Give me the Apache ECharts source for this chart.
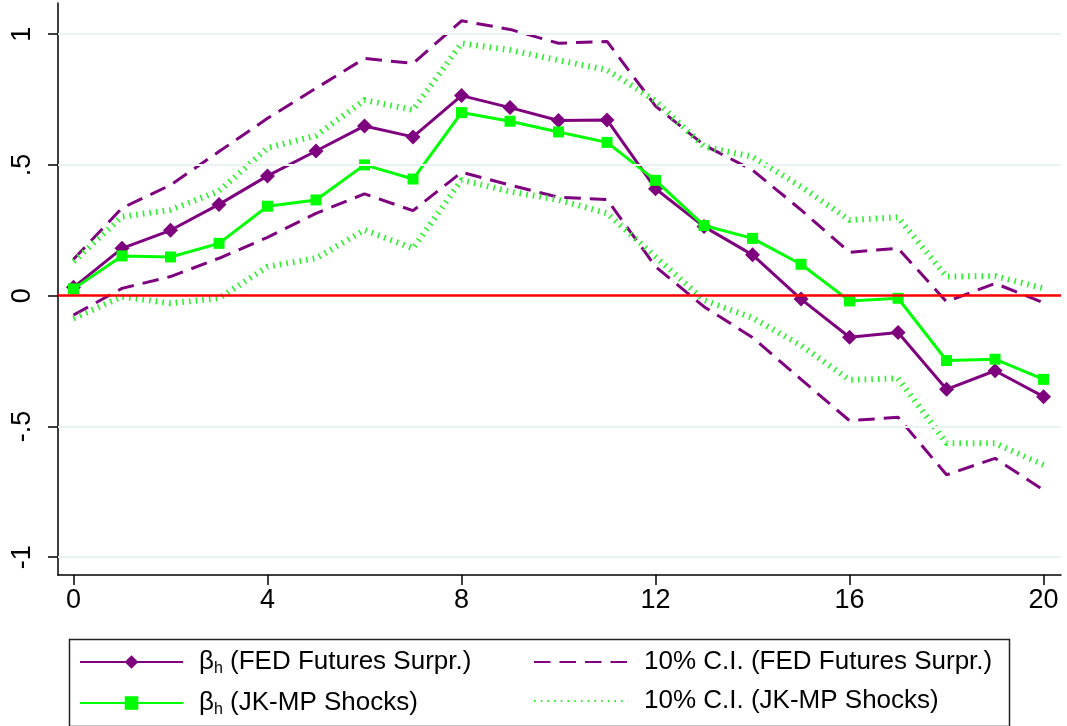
<!DOCTYPE html>
<html>
<head>
<meta charset="utf-8">
<script src="https://cdn.jsdelivr.net/npm/echarts@6/dist/echarts.min.js"></script>
<style>
html,body{margin:0;padding:0;background:#fff;}
#chart{width:1067px;height:726px;}
</style>
</head>
<body>
<div id="chart"></div>
<script>
// horizons
var horizons = [0,1,2,3,4,5,6,7,8,9,10,11,12,13,14,15,16,17,18,19,20];
// beta_h, FED futures surprises
var fedBeta = [0.032,0.181,0.25,0.349,0.458,0.553,0.649,0.607,0.765,0.719,0.670,0.672,0.409,0.264,0.156,-0.013,-0.159,-0.141,-0.358,-0.287,-0.386];
var fedUpper = [0.139,0.335,0.423,0.551,0.678,0.793,0.907,0.888,1.051,1.018,0.965,0.972,0.725,0.576,0.48,0.328,0.166,0.181,-0.023,0.047,-0.027];
var fedLower = [-0.074,0.028,0.073,0.143,0.223,0.315,0.389,0.325,0.472,0.423,0.376,0.368,0.111,-0.042,-0.16,-0.32,-0.478,-0.465,-0.685,-0.622,-0.743];
// beta_h, JK-MP shocks
var jkBeta = [0.026,0.152,0.148,0.2,0.342,0.366,0.5,0.446,0.70,0.667,0.626,0.586,0.441,0.268,0.219,0.12,-0.02,-0.01,-0.248,-0.243,-0.32];
var jkUpper = [0.13,0.302,0.328,0.40,0.565,0.612,0.748,0.71,0.965,0.939,0.9,0.863,0.745,0.57,0.531,0.417,0.289,0.3,0.073,0.075,0.028];
var jkLower = [-0.087,-0.004,-0.029,-0.01,0.111,0.143,0.251,0.181,0.442,0.398,0.366,0.315,0.149,-0.017,-0.085,-0.19,-0.322,-0.316,-0.564,-0.564,-0.647];
// axis ticks
var xTicks = [0,4,8,12,16,20];
var yTicks = [-1,-0.5,0,0.5,1];
var yTickLabels = {'-1':'-1','-0.5':'-.5','0':'0','0.5':'.5','1':'1'};
var gridLineValues = [-1,-0.5,0.5,1];

var nameFedBeta = 'fedBeta', nameJkBeta = 'jkBeta', nameFedCI = 'fedCI', nameJkCI = 'jkCI';
var legendText = {
  fedBeta: '{b|β}{s|h}{t| (FED Futures Surpr.)}',
  jkBeta: '{b|β}{s|h}{t| (JK-MP Shocks)}',
  fedCI: '{t|10% C.I. (FED Futures Surpr.)}',
  jkCI: '{t|10% C.I. (JK-MP Shocks)}'
};
function pairs(arr){ return horizons.map(function(h,i){ return [h, arr[i]]; }); }

var PURPLE = '#7f007f', GREEN = '#00ff00', DOT = '#2ef02e';
var FONT = '"Liberation Sans", Arial, sans-serif';
var richStyle = {
  b: {fontSize: 26, fontFamily: FONT, color: '#000', lineHeight: 30},
  s: {fontSize: 16, fontFamily: FONT, color: '#000', verticalAlign: 'bottom', lineHeight: 24},
  t: {fontSize: 26, fontFamily: FONT, color: '#000', lineHeight: 30}
};

var chart = echarts.init(document.getElementById('chart'), null, {renderer: 'canvas'});
var option = {
  backgroundColor: '#fff',
  animation: false,
  grid: {left: 58, right: 6, top: 3, bottom: 151, containLabel: false},
  xAxis: {
    type: 'value', min: -0.32, max: 20.36,
    axisLine: {onZero: false, lineStyle: {color: '#000', width: 1.5}},
    axisTick: {show: true, length: 10, lineStyle: {color: '#000', width: 1.5}, customValues: xTicks},
    axisLabel: {customValues: xTicks, fontSize: 27, fontFamily: FONT, color: '#000', margin: 12},
    splitLine: {show: false}
  },
  yAxis: {
    type: 'value', min: -1.068, max: 1.119,
    axisLine: {show: true, onZero: false, lineStyle: {color: '#000', width: 1.5}},
    axisTick: {show: true, length: 10, lineStyle: {color: '#000', width: 1.5}, customValues: yTicks},
    axisLabel: {customValues: yTicks, rotate: 90, fontSize: 27, fontFamily: FONT, color: '#000', margin: 22,
      formatter: function(v){ var k = String(Math.round(v*10)/10); return yTickLabels[k] !== undefined ? yTickLabels[k] : k; }},
    splitLine: {show: false}
  },
  legend: [
    {
      orient: 'vertical', left: 79, top: 649, padding: 0, itemGap: 13,
      itemWidth: 103, itemHeight: 17,
      data: [nameFedBeta, nameJkBeta],
      formatter: function(n){ return legendText[n]; },
      textStyle: {rich: richStyle, padding: [0,0,0,11]}
    },
    {
      orient: 'vertical', left: 533, top: 649, padding: 0, itemGap: 13,
      itemWidth: 94, itemHeight: 17,
      data: [{name: nameFedCI, itemStyle: {opacity: 0}}, {name: nameJkCI, itemStyle: {opacity: 0}}],
      formatter: function(n){ return legendText[n]; },
      textStyle: {rich: richStyle, padding: [0,0,0,11]}
    }
  ],
  graphic: [
    {type: 'rect', left: 67, top: 637, shape: {width: 940, height: 87},
     style: {fill: 'none', stroke: '#222', lineWidth: 1.5}, z: -1}
  ],
  series: [
    {
      name: 'grid', type: 'line', data: [], silent: true, z: 0,
      markLine: {silent: true, symbol: 'none', label: {show: false},
        lineStyle: {color: '#eaf2f3', width: 2, type: 'solid'},
        data: gridLineValues.map(function(v){ return {yAxis: v}; })}
    },
    {
      name: 'zero', type: 'line', data: [], silent: true, z: 1,
      markLine: {silent: true, symbol: 'none', label: {show: false},
        lineStyle: {color: '#ff0000', width: 2.5, type: 'solid'},
        data: [{yAxis: 0}]}
    },
    {
      name: nameFedCI, type: 'line', data: pairs(fedUpper), symbol: 'none', z: 2,
      lineStyle: {color: PURPLE, width: 3, type: [16.5, 9]}, itemStyle: {color: PURPLE}
    },
    {
      name: nameFedCI, type: 'line', data: pairs(fedLower), symbol: 'none', z: 2,
      lineStyle: {color: PURPLE, width: 3, type: [16.5, 9]}, itemStyle: {color: PURPLE}
    },
    {
      name: nameJkCI, type: 'line', data: pairs(jkUpper), symbol: 'none', z: 2,
      lineStyle: {color: DOT, width: 6, type: [1.6, 5.1]}, itemStyle: {color: DOT}
    },
    {
      name: nameJkCI, type: 'line', data: pairs(jkLower), symbol: 'none', z: 2,
      lineStyle: {color: DOT, width: 6, type: [1.6, 5.1]}, itemStyle: {color: DOT}
    },
    {
      name: nameFedBeta, type: 'line', data: pairs(fedBeta), symbol: 'diamond', symbolSize: [15, 15], z: 3,
      lineStyle: {color: PURPLE, width: 3}, itemStyle: {color: PURPLE}
    },
    {
      name: nameJkBeta, type: 'line', data: pairs(jkBeta), symbol: 'rect', symbolSize: 11, z: 4,
      lineStyle: {color: GREEN, width: 3}, itemStyle: {color: GREEN}
    }
  ]
};
chart.setOption(option);
</script>
</body>
</html>
